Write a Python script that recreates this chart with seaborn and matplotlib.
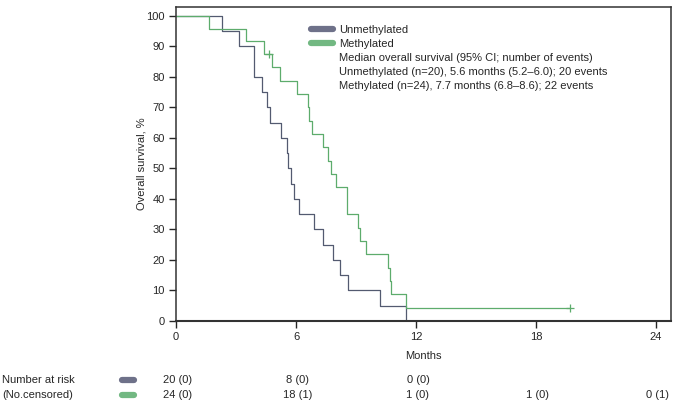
import matplotlib
matplotlib.use("Agg")
from matplotlib import pyplot as plt
from matplotlib.lines import Line2D
import matplotlib.transforms as mtransforms
import seaborn as sns

# event / censor times (months)
unmeth_events = [2.32, 3.17, 3.92, 3.92, 4.28, 4.57, 4.7, 5.25, 5.57, 5.62,
                 5.73, 5.9, 6.15, 6.92, 7.37, 7.87, 8.2, 8.58, 10.2, 11.5]
unmeth_censored = []
meth_events = [1.65, 3.5, 4.42, 4.78, 5.2, 6.03, 6.58, 6.65, 6.78, 7.37, 7.62,
               7.73, 7.98, 8.53, 8.57, 9.12, 9.2, 9.5, 10.6, 10.7, 10.77, 11.48]
meth_censored = [4.67, 19.7]

risk_times = [0, 6, 12, 18, 24]
unmeth_risk = ["20 (0)", "8 (0)", "0 (0)"]
meth_risk = ["24 (0)", "18 (1)", "1 (0)", "1 (0)", "0 (1)"]

legend_lines = ["Median overall survival (95% CI; number of events)",
                "Unmethylated (n=20), 5.6 months (5.2\u20136.0); 20 events",
                "Methylated (n=24), 7.7 months (6.8\u20138.6); 22 events"]

c_unmeth = "#535a70"
c_meth = "#5dac6c"
c_unmeth_pill = "#6e7189"
c_meth_pill = "#72b882"
c_text = "#262626"


def km_steps(events, censored):
    at_risk = len(events) + len(censored)
    s = 100.0
    xs, ys = [0.0], [100.0]
    cx, cy = [], []
    for t in sorted(set(events) | set(censored)):
        d = events.count(t)
        c = censored.count(t)
        if d:
            s = s * (at_risk - d) / at_risk
            xs.append(t)
            ys.append(s)
        if c:
            cx.append(t)
            cy.append(s)
        at_risk -= d + c
    if xs[-1] < max(events + censored):
        xs.append(max(events + censored))
        ys.append(s)
    return xs, ys, cx, cy


sns.set_style("white")
plt.rcParams["font.family"] = ["Liberation Sans", "DejaVu Sans"]
fs = 8

fig = plt.figure(figsize=(6.77, 4.07), dpi=100)
ax = fig.add_axes([176 / 677, 86 / 407, 495 / 677, 314.3 / 407])

ux, uy, _, _ = km_steps(unmeth_events, unmeth_censored)
mx, my, mcx, mcy = km_steps(meth_events, meth_censored)

sns.lineplot(ax=ax, x=ux, y=uy, drawstyle="steps-post", estimator=None,
             sort=False, color=c_unmeth, linewidth=0.9)
sns.lineplot(ax=ax, x=mx, y=my, drawstyle="steps-post", estimator=None,
             sort=False, color=c_meth, linewidth=0.9)
sns.scatterplot(ax=ax, x=mcx, y=mcy, marker="+", color=c_meth, s=30,
                linewidth=0.9)

ax.set_xlim(0, 24.75)
ax.set_ylim(0, 103)
ax.set_xticks(risk_times)
ax.set_yticks(range(0, 101, 10))
ax.tick_params(direction="out", length=5, width=1, labelsize=fs, pad=3,
               colors=c_text, left=True, bottom=True)
for sp in ax.spines.values():
    sp.set_color("#333333")
    sp.set_linewidth(1.1)
ax.spines["bottom"].set_linewidth(1.5)

ax.set_xlabel("Months", fontsize=fs, color=c_text)
ax.set_ylabel("Overall survival, %", fontsize=fs, color=c_text)
ax.xaxis.set_label_coords(0.5, -0.095)
ax.yaxis.set_label_coords(-0.06, 0.5)

handles = [Line2D([], [], color=c_unmeth_pill, lw=4.5, solid_capstyle="round"),
           Line2D([], [], color=c_meth_pill, lw=4.5, solid_capstyle="round")]
handles += [Line2D([], [], color="none") for _ in legend_lines]
labels = ["Unmethylated", "Methylated"] + legend_lines
leg = ax.legend(handles, labels, loc="upper left",
                bbox_to_anchor=((311 - 176) / 495, (321 - 25) / 314.3),
                frameon=False, fontsize=fs, handlelength=2.0,
                handletextpad=0.55, labelspacing=0.36, borderpad=0,
                borderaxespad=0)
for t in leg.get_texts():
    t.set_color(c_text)

# number at risk table
fig.text(2 / 677, 1 - 380 / 407, "Number at risk", fontsize=fs, va="center",
         color=c_text)
fig.text(2 / 677, 1 - 395 / 407, "(No.censored)", fontsize=fs, va="center",
         color=c_text)
for yy, col in [(380, c_unmeth_pill), (395, c_meth_pill)]:
    fig.add_artist(Line2D([122 / 677, 134 / 677], [1 - yy / 407, 1 - yy / 407],
                          color=col, lw=4.5, solid_capstyle="round"))

trans = mtransforms.blended_transform_factory(ax.transData, fig.transFigure)
for t, lab in zip(risk_times, unmeth_risk):
    ax.text(t + 0.1, 1 - 380 / 407, lab, transform=trans, ha="center",
            va="center", fontsize=fs, color=c_text, clip_on=False)
for t, lab in zip(risk_times, meth_risk):
    ax.text(t + 0.1, 1 - 395 / 407, lab, transform=trans, ha="center",
            va="center", fontsize=fs, color=c_text, clip_on=False)

fig.savefig("out.png", dpi=100)
